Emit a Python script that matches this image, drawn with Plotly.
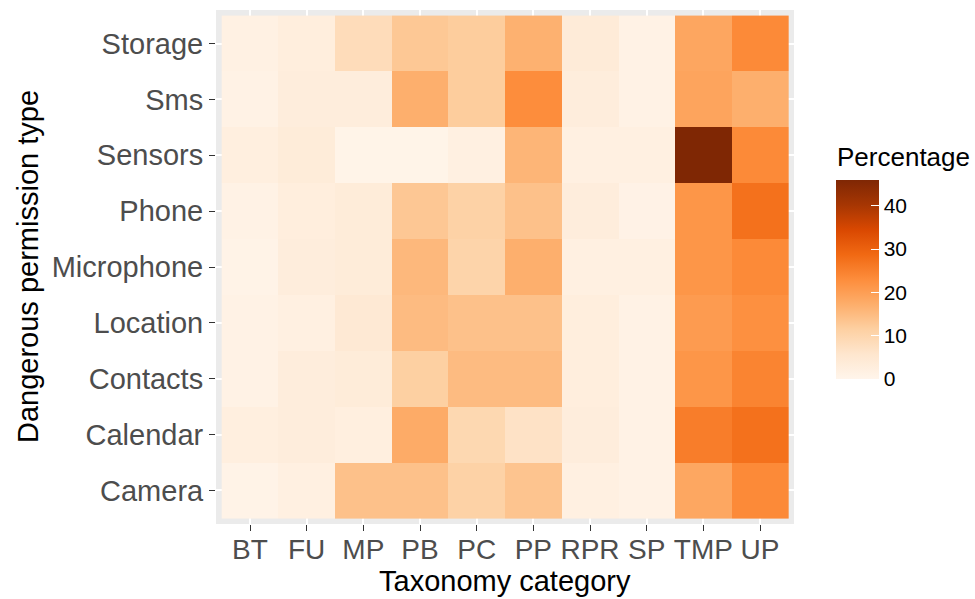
import plotly.graph_objects as go

# Taxonomy categories (x) and dangerous permission types (y, bottom to top)
categories = ["BT", "FU", "MP", "PB", "PC", "PP", "RPR", "SP", "TMP", "UP"]
permissions = ["Camera", "Calendar", "Contacts", "Location", "Microphone",
               "Phone", "Sensors", "Sms", "Storage"]

# Percentage of apps requesting each permission, one list per permission type
camera     = [0.8, 2.0, 14.0, 14.0, 11.0, 13.5, 2.0, 1.1, 18.5, 23.5]
calendar   = [2.3, 3.0, 2.3, 17.8, 9.5, 6.8, 3.0, 1.2, 25.5, 27.5]
contacts   = [1.2, 3.0, 3.5, 11.5, 15.0, 15.0, 2.8, 1.2, 21.5, 24.5]
location   = [1.2, 2.0, 4.5, 15.0, 14.0, 14.0, 2.8, 1.2, 20.5, 22.5]
microphone = [0.8, 3.0, 3.5, 15.5, 10.5, 17.0, 2.0, 2.0, 21.5, 23.5]
phone      = [1.2, 2.7, 3.5, 13.0, 11.0, 14.0, 3.0, 1.0, 21.5, 27.5]
sensors    = [2.3, 3.5, 0.5, 0.5, 2.0, 16.0, 2.0, 2.0, 46.0, 23.5]
sms        = [1.2, 3.0, 3.0, 17.0, 12.0, 23.0, 3.0, 1.2, 19.0, 17.0]
storage    = [1.5, 2.7, 8.4, 12.9, 12.0, 16.7, 3.8, 1.2, 18.6, 23.5]

colorbar_ticks = [0, 10, 20, 30, 40]

z = [camera, calendar, contacts, location, microphone, phone, sensors, sms, storage]

# ColorBrewer "Oranges" (9 classes)
oranges = ["#FFF5EB", "#FEE6CE", "#FDD0A2", "#FDAE6B", "#FD8D3C",
           "#F16913", "#D94801", "#A63603", "#7F2704"]
colorscale = [[i / (len(oranges) - 1), c] for i, c in enumerate(oranges)]

W, H = 975, 599
L, R, T, B = 216, 181, 10, 75
pw, ph = W - L - R, H - T - B

font_family = "Liberation Sans, Arial, sans-serif"

fig = go.Figure(go.Heatmap(
    x=categories,
    y=permissions,
    z=z,
    zmin=0,
    zmax=46,
    colorscale=colorscale,
    xgap=0, ygap=0,
    colorbar=dict(
        thickness=43,
        thicknessmode="pixels",
        len=199,
        lenmode="pixels",
        xref="container",
        x=836 / W,
        xanchor="left",
        yref="container",
        y=(H - 325.5) / H,
        yanchor="middle",
        xpad=0, ypad=0,
        outlinewidth=0,
        tickvals=colorbar_ticks,
        ticks="inside",
        ticklen=8,
        tickcolor="white",
        tickwidth=1,
        tickfont=dict(size=21, color="black", family=font_family),
    ),
))

fig.update_layout(
    width=W, height=H,
    margin=dict(l=L, r=R, t=T, b=B, pad=0),
    paper_bgcolor="white",
    plot_bgcolor="#EBEBEB",
    font=dict(family=font_family),
    showlegend=False,
)

fig.update_xaxes(
    type="category",
    categoryorder="array", categoryarray=categories,
    range=[-0.6, len(categories) - 0.4],
    showgrid=True, gridcolor="white", gridwidth=2,
    zeroline=False, showline=False,
    ticks="outside", ticklen=6, tickwidth=1.2, tickcolor="#333333",
    ticklabelstandoff=-6,
    tickfont=dict(size=28, color="#4D4D4D", family=font_family),
    automargin=False,
)
fig.update_yaxes(
    type="category",
    categoryorder="array", categoryarray=permissions,
    range=[-0.6, len(permissions) - 0.4],
    showgrid=True, gridcolor="white", gridwidth=2,
    zeroline=False, showline=False,
    ticks="outside", ticklen=6, tickwidth=1.2, tickcolor="#333333",
    tickfont=dict(size=29, color="#4D4D4D", family=font_family),
    automargin=False,
)

# Colour bar heading
fig.add_annotation(
    text="Percentage", xref="paper", yref="paper",
    x=(835 - L) / pw, y=(524 - 157) / ph, xanchor="left", yanchor="middle",
    showarrow=False, font=dict(size=26, color="black", family=font_family),
)

# Axis titles
fig.add_annotation(
    text="Taxonomy category", xref="paper", yref="paper",
    x=0.5, y=(524 - 581) / ph, xanchor="center", yanchor="middle",
    showarrow=False, font=dict(size=29, color="black", family=font_family),
)
fig.add_annotation(
    text="Dangerous permission type", xref="paper", yref="paper",
    x=(28 - L) / pw, y=0.5, xanchor="center", yanchor="middle",
    textangle=-90, showarrow=False,
    font=dict(size=29, color="black", family=font_family),
)

fig.write_html("out.html")
